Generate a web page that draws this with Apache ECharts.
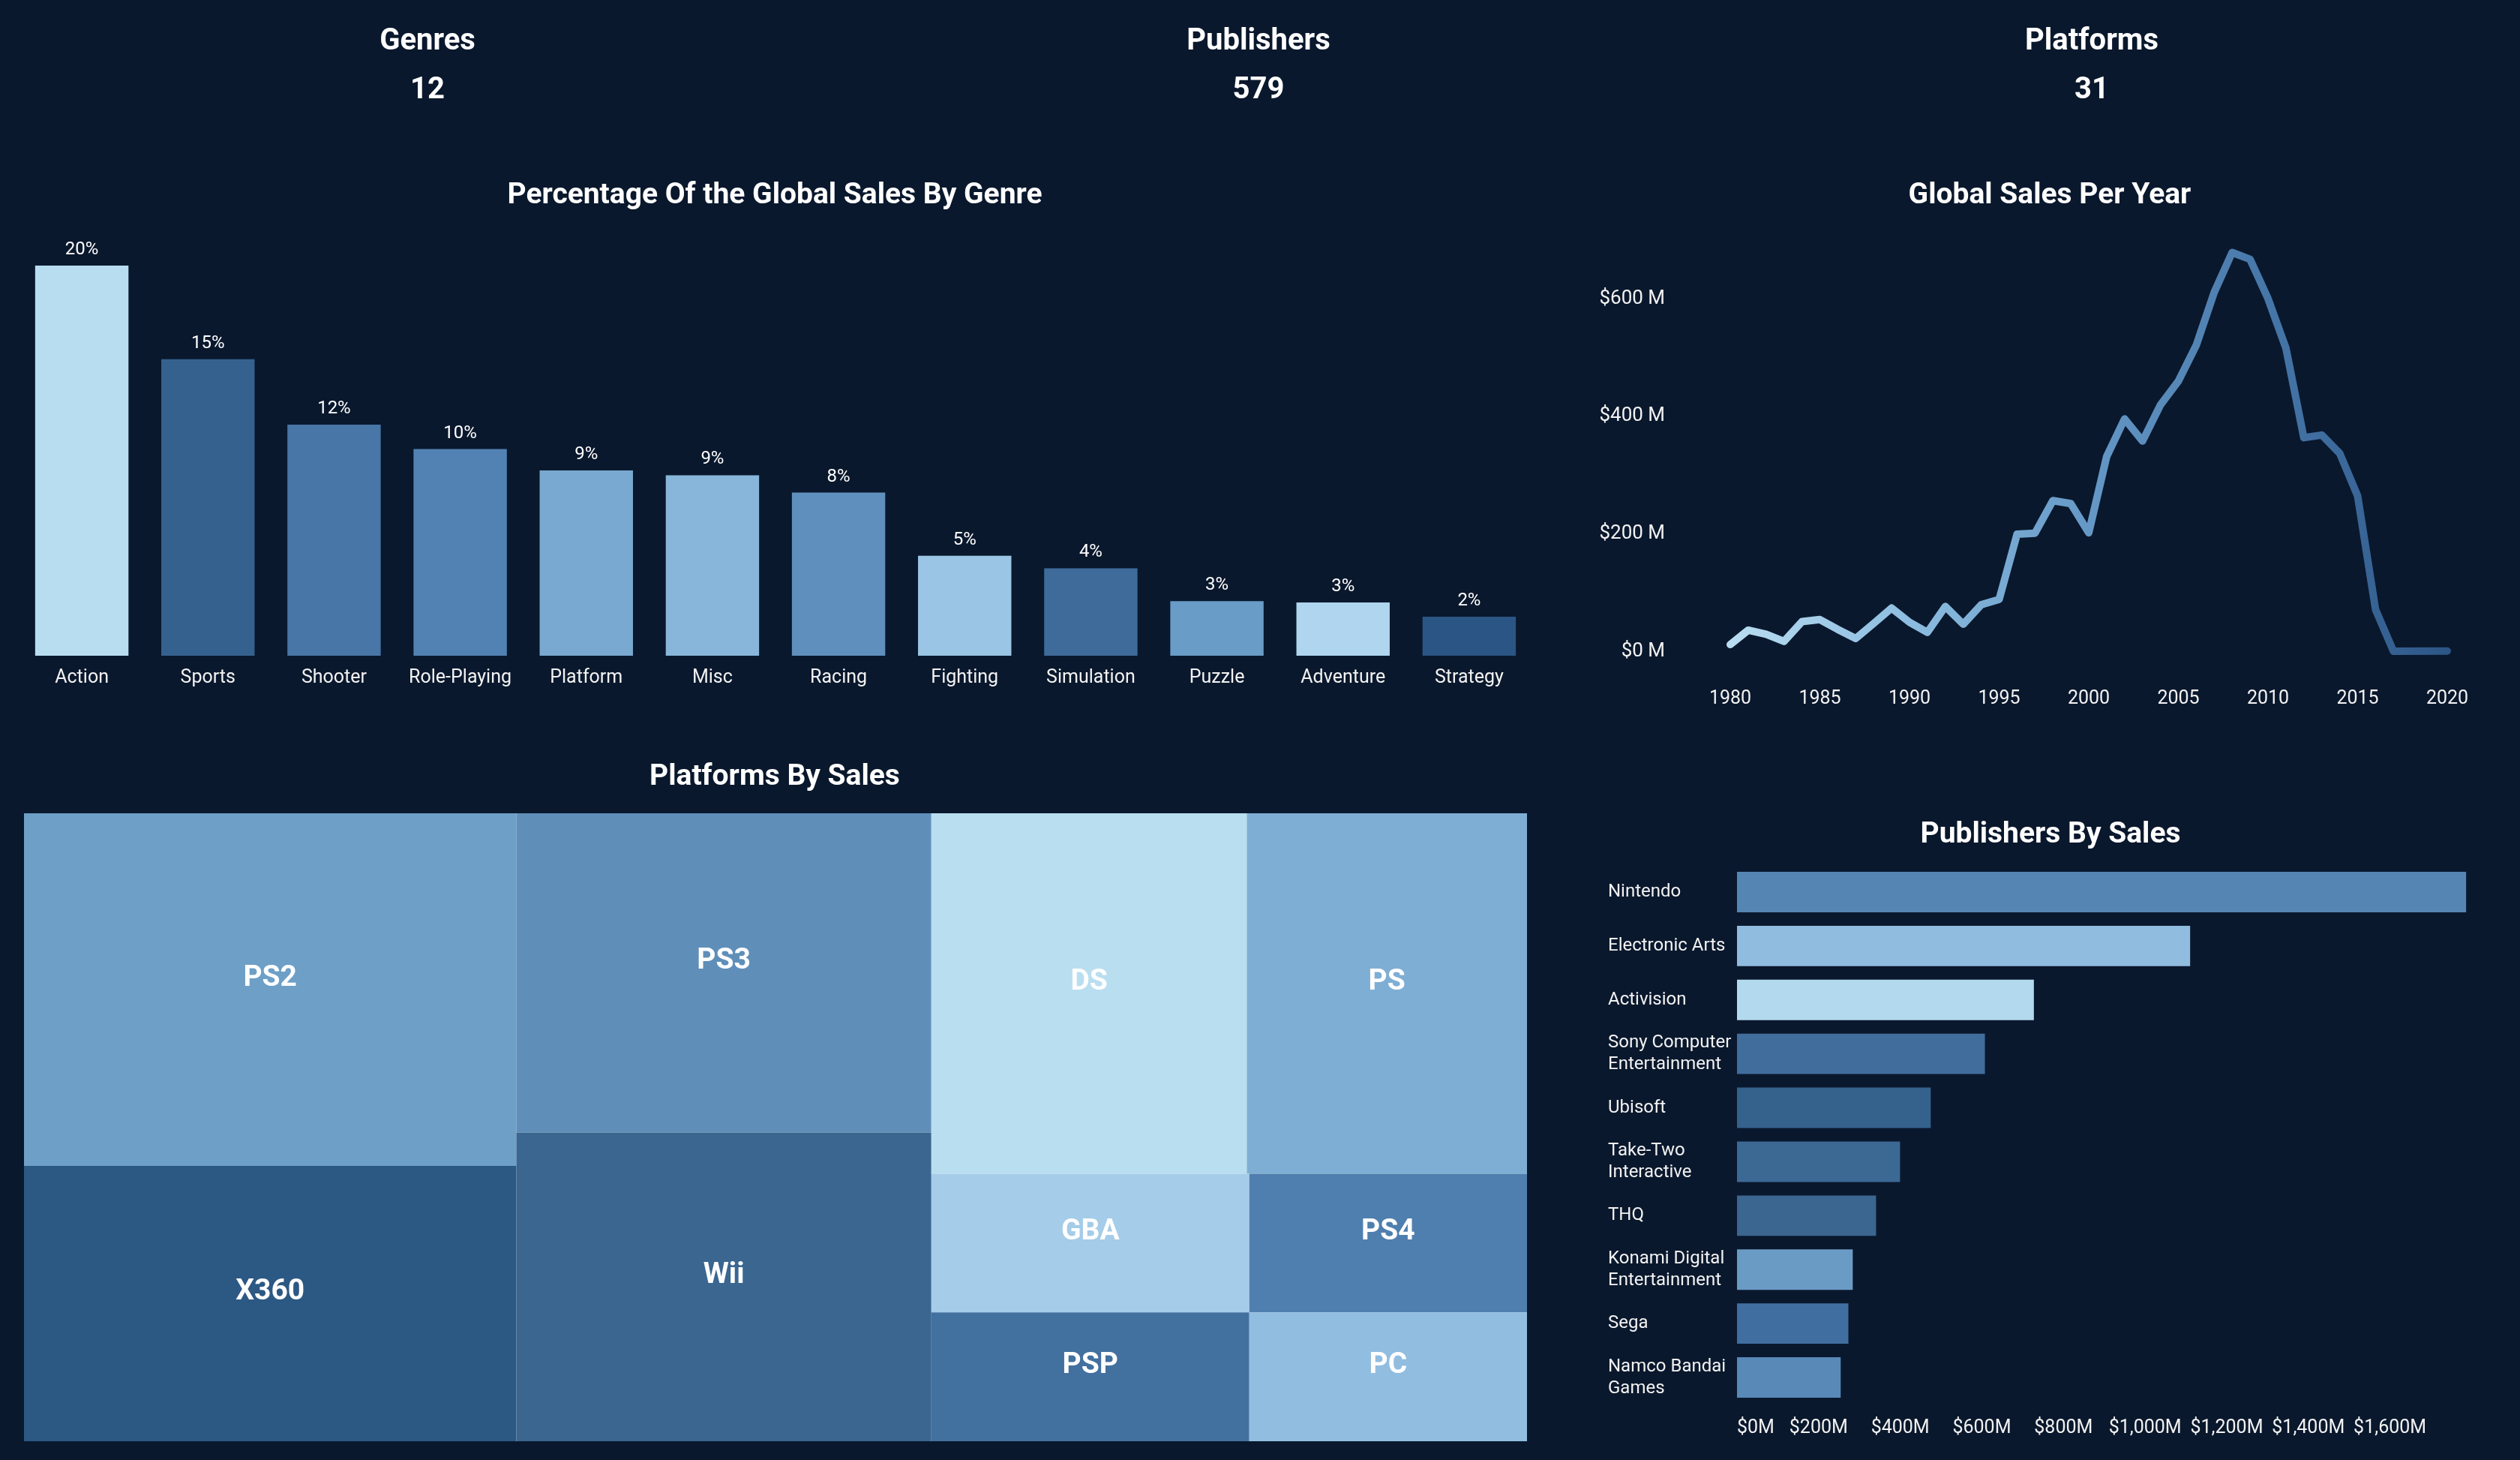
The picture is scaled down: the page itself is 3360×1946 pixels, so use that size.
<!DOCTYPE html>
<html>
<head>
<meta charset="utf-8">
<script src="https://cdn.jsdelivr.net/npm/echarts@6/dist/echarts.min.js"></script>
<style>
html,body{margin:0;padding:0;background:#0a182d;}
#chart{width:3360px;height:1946px;}
</style>
</head>
<body>
<div id="chart"></div>
<script>
// ---- data ----
const kpiLabels = ['Genres', 'Publishers', 'Platforms'];
const kpiValues = ['12', '579', '31'];

const genres = ['Action','Sports','Shooter','Role-Playing','Platform','Misc','Racing','Fighting','Simulation','Puzzle','Adventure','Strategy'];
const genrePct = [19.63,14.92,11.63,10.40,9.32,9.08,8.21,5.03,4.40,2.75,2.68,1.96];

const years = [1980,1981,1982,1983,1984,1985,1986,1987,1988,1989,1990,1991,1992,1993,1994,1995,1996,1997,1998,1999,2000,2001,2002,2003,2004,2005,2006,2007,2008,2009,2010,2011,2012,2013,2014,2015,2016,2017,2020];
const yearSales = [11.38,35.77,28.86,16.79,50.36,53.94,37.07,21.74,47.22,73.45,49.39,32.23,76.16,45.98,79.17,88.11,199.15,200.98,256.47,251.27,201.56,331.47,395.52,357.85,419.31,459.94,521.04,611.13,678.90,667.30,600.45,515.99,363.54,368.11,337.05,264.44,70.93,0.05,0.29];
const yearTicks = [1980,1985,1990,1995,2000,2005,2010,2015,2020];

const platforms = ['PS2','X360','PS3','Wii','DS','PS','GBA','PSP','PS4','PC'];
const platformSales = [1255.64,979.96,957.84,926.71,822.49,730.66,318.5,296.28,278.1,258.82];

const publishers = ['Nintendo','Electronic Arts','Activision','Sony Computer Entertainment','Ubisoft','Take-Two Interactive','THQ','Konami Digital Entertainment','Sega','Namco Bandai Games'];
const publisherSales = [1786.56,1110.32,727.46,607.5,474.72,399.54,340.77,283.64,272.99,254.09];

// ---- styles ----
const genreColors = ['#b9ddf0','#35618f','#4876a6','#5282b3','#79a8d0','#87b6da','#5f8fbc','#9ac5e4','#3f6b9b','#699cc6','#afd5ef','#2b5584'];
const platformColors = ['#6d9fc7','#2c5884','#5f8fb9','#3a6690','#b9def0','#7faed4','#a5cce8','#42709f','#4f7fae','#91bde0'];
const publisherColors = ['#5586b3','#90bddf','#b3d9ee','#416d9c','#35618d','#3c6894','#3a6690','#6a9bc5','#406ea0','#5889b7'];

const FONT = 'Roboto, "Noto Sans", sans-serif';
const TXT = '#f2f2f2';

const chart = echarts.init(document.getElementById('chart'), null, {width:3360, height:1946});

function titleAt(text, x, y, size) {
  return {
    text: text, left: x, top: y, textAlign: 'center', textVerticalAlign: 'middle', padding: 0,
    textStyle: {color: '#ffffff', fontFamily: FONT, fontWeight: 'bold', fontSize: size}
  };
}

const kpiX = [570, 1678, 2789];
const titles = [];
kpiLabels.forEach((l, i) => {
  titles.push(titleAt(l, kpiX[i], 56, 40));
  titles.push(titleAt(kpiValues[i], kpiX[i], 121, 40));
});
titles.push(titleAt('Percentage Of the Global Sales By Genre', 1033, 261, 39));
titles.push(titleAt('Global Sales Per Year', 2733, 261, 39));
titles.push(titleAt('Platforms By Sales', 1033, 1036, 39));
titles.push(titleAt('Publishers By Sales', 2734, 1113, 39));

const option = {
  backgroundColor: '#0a182d',
  animation: false,
  textStyle: {fontFamily: FONT},
  title: titles,
  grid: [
    {left: 25, top: 354, width: 2018, height: 520, containLabel: false},
    {left: 2307, top: 320, width: 956, height: 548, containLabel: false},
    {left: 2316, top: 1153, width: 974, height: 719, containLabel: false}
  ],
  xAxis: [
    {
      gridIndex: 0, type: 'category', data: genres,
      axisLine: {show: false}, axisTick: {show: false},
      axisLabel: {color: TXT, fontSize: 25, fontFamily: FONT, margin: 17, interval: 0}
    },
    {
      gridIndex: 1, type: 'value', min: 1980, max: 2020, interval: 5,
      axisLine: {show: false}, axisTick: {show: false}, splitLine: {show: false},
      axisLabel: {color: TXT, fontSize: 25, fontFamily: FONT, margin: 51,
        customValues: yearTicks, formatter: v => String(v)}
    },
    {
      gridIndex: 2, type: 'value', min: 0, max: 1790, interval: 200,
      axisLine: {show: false}, axisTick: {show: false}, splitLine: {show: false},
      axisLabel: {color: TXT, fontSize: 25, fontFamily: FONT, margin: 19, alignMinLabel: 'left',
        formatter: v => (v % 200 === 0 ? '$' + v.toLocaleString('en-US') + 'M' : '')}
    }
  ],
  yAxis: [
    {gridIndex: 0, type: 'value', min: 0, max: 19.63, show: false},
    {
      gridIndex: 1, type: 'value', min: 0, max: 700, interval: 100,
      axisLine: {show: false}, axisTick: {show: false}, splitLine: {show: false},
      axisLabel: {color: TXT, fontSize: 26, fontFamily: FONT, margin: 87,
        formatter: v => (v % 200 === 0 ? '$' + v + ' M' : '')}
    },
    {
      gridIndex: 2, type: 'category', data: publishers, inverse: true,
      axisLine: {show: false}, axisTick: {show: false},
      axisLabel: {color: TXT, fontSize: 24, fontFamily: FONT, align: 'left', margin: 172, lineHeight: 29, interval: 0,
        formatter: n => (n.length > 15 ? n.replace(/ (?=[^ ]*$)/, '\n') : n)}
    }
  ],
  series: [
    {
      type: 'bar', xAxisIndex: 0, yAxisIndex: 0,
      barCategoryGap: '26%',
      data: genrePct.map((v, i) => ({value: v, itemStyle: {color: genreColors[i]}})),
      label: {show: true, position: 'top', distance: 9, color: '#ffffff', fontSize: 24, fontFamily: FONT,
        formatter: p => Math.round(p.value) + '%'}
    },
    {
      type: 'line', xAxisIndex: 1, yAxisIndex: 1,
      data: years.map((y, i) => [y, yearSales[i]]),
      showSymbol: false, symbol: 'none', smooth: false,
      lineStyle: {
        width: 10, cap: 'round', join: 'round',
        color: new echarts.graphic.LinearGradient(0, 0, 1, 0, [
          {offset: 0, color: '#b9ddf1'},
          {offset: 0.25, color: '#8dbde0'},
          {offset: 0.5, color: '#6598c6'},
          {offset: 0.75, color: '#4676a8'},
          {offset: 1, color: '#2c5586'}
        ])
      }
    },
    {
      type: 'bar', xAxisIndex: 2, yAxisIndex: 2,
      barCategoryGap: '25%',
      data: publisherSales.map((v, i) => ({value: v, itemStyle: {color: publisherColors[i]}}))
    },
    {
      type: 'treemap',
      left: 32, top: 1084, width: 2004, height: 837,
      roam: false, nodeClick: false,
      breadcrumb: {show: false},
      itemStyle: {borderWidth: 0, gapWidth: 0},
      label: {show: true, position: 'inside', color: '#ffffff', fontFamily: FONT, fontWeight: 'bold', fontSize: 39,
        offset: [0, -15], formatter: '{b}'},
      upperLabel: {show: false},
      emphasis: {disabled: true},
      data: platforms.map((p, i) => ({name: p, value: platformSales[i], itemStyle: {color: platformColors[i]}}))
    }
  ]
};
chart.setOption(option);
</script>
</body>
</html>
